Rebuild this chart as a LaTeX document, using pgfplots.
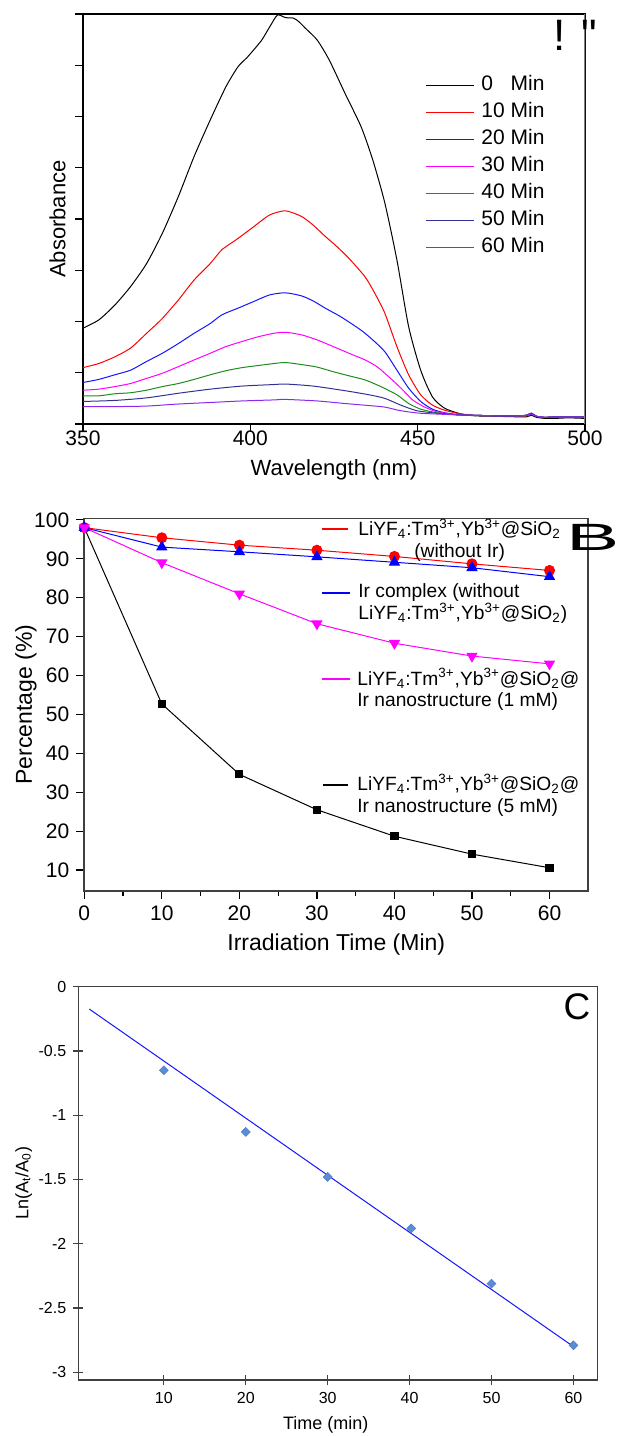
\documentclass[border=0pt]{standalone}
\usepackage{fontspec}
\setmainfont{Liberation Sans}
\newfontfamily\rawfont{Liberation Sans}
\usepackage{pgfplots}
\pgfplotsset{compat=1.18}

\definecolor{cgreen}{RGB}{30,140,30}
\definecolor{cnavy}{RGB}{50,50,150}
\definecolor{cviolet}{RGB}{140,40,235}
\definecolor{cblue}{RGB}{20,20,255}
\definecolor{cmag}{RGB}{255,0,255}
\definecolor{cdiam}{RGB}{90,140,215}
\definecolor{frame}{RGB}{64,64,64}

\newcommand{\lyf}{LiYF\textsubscript{4}:Tm\textsuperscript{3+},Yb\textsuperscript{3+}@SiO\textsubscript{2}}

\begin{document}
\begin{tikzpicture}
\useasboundingbox (0,0) rectangle (311pt,-718pt);

% ---------------- panel A: spectra ----------------
\begin{axis}[
    at={(41.5pt,-212pt)}, anchor=south west,
    scale only axis, width=251pt, height=205pt,
    xmin=350, xmax=500, ymin=0, ymax=8,
    xtick={350,400,450,500},
    ytick={0,1,...,8}, yticklabels={},
    tick align=outside, tick pos=left,
    major tick length=4pt,
    tick style={black, line width=0.6pt},
    axis line style={black, line width=0.7pt},
    /pgf/number format/assume math mode=true,
    /pgf/number format/1000 sep={},
    ticklabel style={font=\fontsize{10.5}{12}\selectfont},
    xticklabel style={yshift=4pt},
    xlabel={Wavelength (nm)},
    ylabel={Absorbance},
    label style={font=\fontsize{11}{13}\selectfont},
    xlabel style={at={(axis description cs:0.5,0)}, anchor=center, yshift=-23pt},
    ylabel style={at={(axis description cs:-0.051,0.5)}, anchor=center},
    legend style={at={(axis description cs:0.681,0.629)}, anchor=west,
        draw=none, fill=none, inner sep=0pt, row sep=3pt,
        font=\fontsize{10.5}{12}\selectfont,
        nodes={inner sep=0pt, text height=8pt, text depth=2.5pt},
        /tikz/every odd column/.append style={column sep=3.5pt}},
    legend cell align=left,
    legend image code/.code={\draw[#1, line width=0.6pt] (0pt,0pt) -- (24pt,0pt);},
    every axis plot/.append style={line width=0.5pt, smooth, tension=0.4},
]
\addplot[black] coordinates {
(350,1.87)(354.7,2.03)(359.5,2.32)(364.2,2.68)(369,3.13)(373.7,3.72)(378.5,4.44)
(383.2,5.22)(388,5.93)(392.7,6.58)(396.3,6.97)(399,7.15)(401,7.30)(403.4,7.49)(405.8,7.75)
(408.1,7.98)(410.5,7.93)(412.9,7.92)(414.5,7.85)(416.5,7.72)(420,7.49)(423.6,7.10)
(428.3,6.45)(433.1,5.80)(436.6,5.15)(440.2,4.31)(443.8,3.20)(447.3,1.90)
(450.9,1.05)(454.4,0.53)(458,0.31)(462.7,0.20)(467,0.16)(473.4,0.15)(480,0.14)
(482.5,0.14)(484,0.17)(485.5,0.13)(488,0.11)(491.2,0.11)(495,0.12)(500,0.11)};
\addplot[red] coordinates {
(350,1.10)(354.7,1.18)(359.5,1.31)(364.2,1.48)(369,1.77)(373.7,2.06)(378.5,2.42)
(383.2,2.81)(388,3.13)(391.5,3.40)(396.3,3.62)(401,3.85)(405.8,4.08)(410.5,4.16)
(415.3,4.05)(418.8,3.88)(422.4,3.66)(425.9,3.46)(429.5,3.23)(434.3,2.87)(437.2,2.55)
(440.2,2.16)(443.8,1.51)(447.3,0.96)(450.9,0.57)(454.4,0.37)(458,0.27)(462.7,0.20)
(467,0.17)(473.4,0.16)(480,0.16)(482.5,0.16)(484,0.20)(485.5,0.15)(488,0.13)
(491.2,0.14)(495,0.14)(500,0.14)};
\addplot[cblue] coordinates {
(350,0.81)(354.7,0.87)(359.5,0.96)(364.2,1.05)(369,1.22)(373.7,1.38)(378.5,1.57)
(383.2,1.77)(388,1.96)(391.5,2.13)(396.3,2.26)(401,2.39)(405.8,2.52)(410.5,2.56)
(415.3,2.50)(418.8,2.40)(422.4,2.26)(427.1,2.09)(433.1,1.83)(436.6,1.64)(440.2,1.41)
(443.8,1.05)(447.3,0.70)(450.9,0.44)(454.4,0.29)(458,0.22)(462.7,0.18)(467,0.17)
(473.4,0.16)(480,0.16)(482.5,0.17)(484,0.21)(485.5,0.15)(488,0.13)(491.2,0.14)
(495,0.14)(500,0.14)};
\addplot[cmag] coordinates {
(350,0.66)(354.7,0.68)(359.5,0.73)(364.2,0.79)(369,0.89)(373.7,0.99)(378.5,1.12)
(383.2,1.25)(388,1.38)(392.7,1.51)(397.5,1.61)(402.2,1.70)(407,1.77)(410.5,1.79)
(415.3,1.74)(420,1.64)(424.8,1.51)(429.5,1.38)(434.3,1.25)(437.8,1.12)(441.4,0.92)
(445,0.70)(448.5,0.47)(452.1,0.33)(455.7,0.24)(461.6,0.18)(467,0.17)(473.4,0.16)
(480,0.16)(482.5,0.17)(484,0.21)(485.5,0.15)(488,0.13)(491.2,0.14)(495,0.14)(500,0.14)};
\addplot[cgreen] coordinates {
(350,0.55)(354.7,0.55)(359.5,0.59)(364.2,0.61)(369,0.66)(373.7,0.73)(378.5,0.79)
(383.2,0.87)(388,0.96)(392.7,1.04)(397.5,1.10)(402.2,1.14)(407,1.18)(410.5,1.20)
(415.3,1.16)(420,1.11)(424.8,1.02)(429.5,0.94)(434.3,0.86)(439,0.73)(443.8,0.57)
(447.3,0.40)(450.9,0.29)(455.7,0.22)(461.6,0.18)(467,0.17)(473.4,0.16)(480,0.16)
(482.5,0.17)(484,0.20)(485.5,0.15)(488,0.13)(491.2,0.14)(495,0.14)(500,0.14)};
\addplot[cnavy] coordinates {
(350,0.44)(359.5,0.46)(369,0.51)(378.5,0.60)(388,0.68)(397.5,0.74)(407,0.77)
(410.5,0.78)(418.8,0.74)(428.3,0.65)(435.5,0.57)(440.2,0.50)(444.9,0.37)(449.7,0.26)
(455.7,0.21)(461.6,0.18)(467,0.17)(473.4,0.16)(480,0.16)(482.5,0.17)(484,0.21)
(485.5,0.15)(488,0.13)(491.2,0.14)(495,0.14)(500,0.14)};
\addplot[cviolet] coordinates {
(350,0.34)(359.5,0.34)(369,0.35)(378.5,0.39)(388,0.42)(397.5,0.45)(407,0.47)
(410.5,0.48)(420,0.45)(428.3,0.40)(435.5,0.36)(440.2,0.33)(444.9,0.26)(450.9,0.21)
(461.6,0.18)(473.4,0.16)(480,0.16)(482.5,0.17)(484,0.19)(485.5,0.15)(488,0.13)
(491.2,0.14)(495,0.14)(500,0.14)};
\legend{0\phantom{0} Min, 10 Min, 20 Min, 30 Min, 40 Min, 50 Min, 60 Min}
\draw[gray, line width=0.7pt] (rel axis cs:1,0) -- (rel axis cs:1,1);
\end{axis}
\node[anchor=base, font=\fontsize{22}{24}\selectfont] at (280pt,-25pt) {!};
\node[anchor=base, font=\rawfont\fontsize{22}{24}\selectfont] at (294.5pt,-25pt) {"};

% ---------------- panel B: percentage ----------------
\begin{axis}[
    at={(42.15pt,-445.35pt)}, anchor=south west,
    scale only axis, width=252pt, height=186.2pt,
    xmin=0, xmax=65, ymin=4.7, ymax=100.4,
    xtick={0,10,...,60}, minor xtick={5,15,...,55},
    ytick={10,20,...,100},
    tick align=outside, tick pos=left,
    major tick length=4pt, minor tick length=2.5pt,
    tick style={black, line width=0.6pt},
    axis line style={frame, line width=0.8pt},
    /pgf/number format/assume math mode=true,
    ticklabel style={font=\fontsize{10.5}{12}\selectfont},
    xlabel={Irradiation Time (Min)},
    ylabel={Percentage (\%)},
    label style={font=\fontsize{11.5}{13}\selectfont},
    xlabel style={at={(axis description cs:0.5,0)}, anchor=center, yshift=-27pt},
    ylabel style={at={(axis description cs:-0.116,0.5)}, anchor=center},
    every axis plot/.append style={line width=0.5pt},
]
\addplot[black, mark=square*, mark size=1.8pt] coordinates {
(0,98)(10,52.7)(20,34.6)(30,25.5)(40,18.7)(50,14.1)(60,10.6)};
\addplot[red, mark=*, mark size=2.5pt] coordinates {
(0,98)(10,95.4)(20,93.5)(30,92.2)(40,90.6)(50,88.7)(60,87.0)};
\addplot[blue, mark=triangle*, mark size=2.8pt] coordinates {
(0,98)(10,93.0)(20,91.8)(30,90.5)(40,89.1)(50,87.7)(60,85.4)};
\addplot[cmag, mark=triangle*, mark size=2.8pt, mark options={rotate=180}] coordinates {
(0,98)(10,89.0)(20,81.0)(30,73.3)(40,68.3)(50,65.0)(60,63.0)};
\end{axis}
\begin{scope}[line width=0.7pt]
\draw[red] (161pt,-264.5pt) -- (174pt,-264.5pt);
\draw[blue] (161pt,-296.5pt) -- (175pt,-296.5pt);
\draw[cmag] (161pt,-339.5pt) -- (175pt,-339.5pt);
\draw[black] (161.5pt,-392.5pt) -- (174pt,-392.5pt);
\end{scope}
\begin{scope}[every node/.style={anchor=west, inner sep=0pt,
        font=\fontsize{9.6}{10.8}\selectfont}]
\node[align=center] at (179pt,-270pt) {\lyf\\(without Ir)};
\node[align=left] at (179pt,-301.75pt) {Ir complex (without\\\lyf)};
\node[align=left] at (178.5pt,-344.75pt) {\lyf@\\Ir nanostructure (1 mM)};
\node[align=left] at (178.5pt,-397.5pt) {\lyf@\\Ir nanostructure (5 mM)};
\end{scope}
\node[font=\fontsize{19}{21}\selectfont] at (296.7pt,-268.5pt) {\scalebox{2.1}[1]{B}};

% ---------------- panel C: kinetics ----------------
\begin{axis}[
    at={(39.15pt,-690pt)}, anchor=south west,
    scale only axis, width=259.45pt, height=196.65pt,
    xmin=-0.45, xmax=62.9, ymin=-3.06, ymax=0,
    xtick={10,20,...,60},
    ytick={-3,-2.5,-2,-1.5,-1,-0.5,0},
    yticklabels={-3,-2.5,-2,-1.5,-1,-0.5,0},
    tick align=center, tick pos=left,
    major tick length=5pt,
    tick style={frame, line width=0.6pt},
    axis line style={frame, line width=0.6pt},
    /pgf/number format/assume math mode=true,
    ticklabel style={font=\fontsize{8}{10}\selectfont},
    xlabel={Time (min)},
    ylabel={Ln(A\textsubscript{t}/A\textsubscript{0})},
    label style={font=\fontsize{9}{11}\selectfont},
    xlabel style={at={(axis description cs:0.477,0)}, anchor=center, yshift=-22.5pt},
    ylabel style={at={(axis description cs:-0.105,0.5)}, anchor=center},
]
\addplot[cblue, line width=0.5pt] coordinates {(0.9,-0.174)(60,-2.80)};
\addplot[only marks, mark=square*, mark size=1.6pt, mark options={rotate=45, fill=cdiam, draw=cdiam!85!black, line width=0.2pt}] coordinates {
(10,-0.65)(20,-1.13)(30,-1.48)(40.2,-1.88)(50,-2.31)(60,-2.79)};
\end{axis}
\node[font=\fontsize{18.5}{20}\selectfont] at (288.5pt,-503.5pt) {C};
\end{tikzpicture}
\end{document}
